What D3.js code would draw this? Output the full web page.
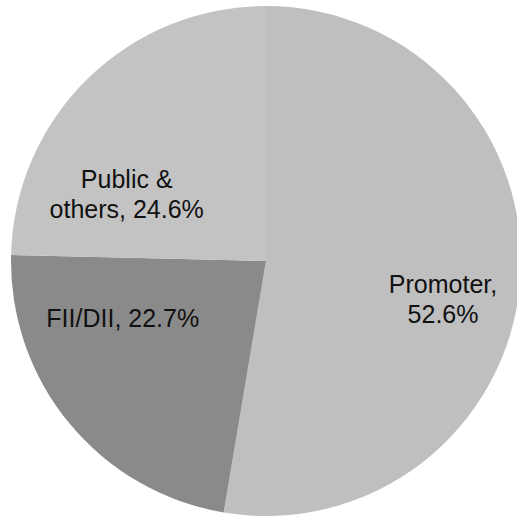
<!DOCTYPE html>
<html>
<head>
<meta charset="utf-8">
<script src="https://cdn.jsdelivr.net/npm/d3@7"></script>
<style>
  html, body { margin: 0; padding: 0; background: #ffffff; }
  svg { display: block; }
  .slice-label { font-family: "Liberation Sans", Arial, sans-serif; font-size: 25px; fill: #111111; }
</style>
</head>
<body>
<svg id="chart" width="517" height="521"></svg>
<script>
// Shareholding pattern
const categories = ["Promoter", "FII/DII", "Public & others"];
const shares = [52.6, 22.7, 24.6];

// Presentation settings
const sliceColors = ["#bfbfbf", "#8a8a8a", "#c3c3c3"];
const wrapAfterWords = [1, 2, 2];          // where each label breaks into a second line
const labelNudge = [[12.6, 18.5], [-16, -39.5], [-24, 45.5]];
const lineHeight = 30;

const cx = 266, cy = 261, radius = 255;

const svg = d3.select("#chart");
const g = svg.append("g").attr("transform", `translate(${cx},${cy})`);

const data = categories.map((name, i) => ({ name, value: shares[i], i }));

const pie = d3.pie().sort(null).value(d => d.value);
const arcs = pie(data);

const arc = d3.arc().innerRadius(0).outerRadius(radius);
const labelArc = d3.arc().innerRadius(165).outerRadius(165);

g.selectAll("path.slice")
  .data(arcs)
  .join("path")
  .attr("class", "slice")
  .attr("d", arc)
  .attr("fill", d => sliceColors[d.data.i]);

const labels = g.selectAll("text.slice-label")
  .data(arcs)
  .join("text")
  .attr("class", "slice-label")
  .attr("text-anchor", "middle")
  .attr("transform", d => {
    const [x, y] = labelArc.centroid(d);
    const [nx, ny] = labelNudge[d.data.i];
    return `translate(${x + nx},${y + ny})`;
  });

labels.each(function(d) {
  const words = `${d.data.name}, ${d.data.value.toFixed(1)}%`.split(" ");
  const k = wrapAfterWords[d.data.i];
  const lines = [words.slice(0, k).join(" "), words.slice(k).join(" ")].filter(s => s.length);
  d3.select(this).selectAll("tspan")
    .data(lines)
    .join("tspan")
    .attr("x", 0)
    .attr("y", (s, j) => j * lineHeight)
    .text(s => s);
});
</script>
</body>
</html>
